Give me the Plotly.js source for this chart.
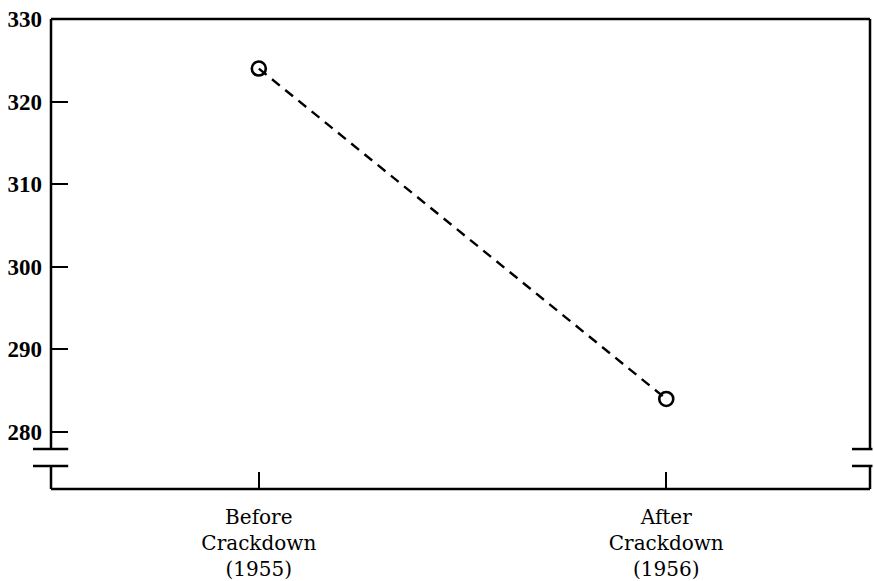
<!DOCTYPE html>
<html>
<head>
<meta charset="utf-8">
<script src="https://cdn.plot.ly/plotly-3.0.1.min.js"></script>
<style>html,body{margin:0;padding:0;background:#fff;}#chart{width:874px;height:581px;}</style>
</head>
<body>
<div id="chart"></div>
<script>
var categories = ["Before<br>Crackdown<br>(1955)", "After<br>Crackdown<br>(1956)"];
var fatalities = [324, 284];
var yTicks = [280, 290, 300, 310, 320, 330];

var xIdx = categories.map(function (c, i) { return i; });

var trace = {
  x: xIdx,
  y: fatalities,
  type: 'scatter',
  mode: 'lines+markers',
  line: {color: '#000', width: 2.4, dash: '10px,7px'},
  marker: {symbol: 'circle-open', size: 14, color: '#000', line: {width: 2.6, color: '#000'}},
  hoverinfo: 'x+y',
  showlegend: false
};

var lw = 2.5;
var bLow = 0.049, bHigh = 0.085;
var shapes = [
  {type: 'line', xref: 'paper', yref: 'paper', x0: 0, x1: 1, y0: 1, y1: 1},
  {type: 'line', xref: 'paper', yref: 'paper', x0: 0, x1: 1, y0: 0, y1: 0},
  {type: 'line', xref: 'paper', yref: 'paper', x0: 0, x1: 0, y0: 0, y1: bLow},
  {type: 'line', xref: 'paper', yref: 'paper', x0: 0, x1: 0, y0: bHigh, y1: 1},
  {type: 'line', xref: 'paper', yref: 'paper', x0: 1, x1: 1, y0: 0, y1: bLow},
  {type: 'line', xref: 'paper', yref: 'paper', x0: 1, x1: 1, y0: bHigh, y1: 1},
  {type: 'line', xref: 'paper', yref: 'paper', x0: -0.022, x1: 0.021, y0: bLow, y1: bLow},
  {type: 'line', xref: 'paper', yref: 'paper', x0: -0.022, x1: 0.021, y0: bHigh, y1: bHigh},
  {type: 'line', xref: 'paper', yref: 'paper', x0: 0.978, x1: 1.003, y0: bLow, y1: bLow},
  {type: 'line', xref: 'paper', yref: 'paper', x0: 0.978, x1: 1.003, y0: bHigh, y1: bHigh}
].map(function (s) { s.line = {color: '#000', width: lw}; s.layer = 'above'; return s; });

var layout = {
  width: 874,
  height: 581,
  margin: {l: 51, r: 4, t: 19, b: 92},
  paper_bgcolor: '#fff',
  plot_bgcolor: '#fff',
  xaxis: {
    range: [-0.51, 1.5],
    tickmode: 'array',
    tickvals: xIdx,
    ticktext: categories,
    ticks: 'inside',
    ticklen: 17,
    tickwidth: 2,
    tickcolor: '#000',
    showgrid: false,
    zeroline: false,
    showline: false,
    ticklabelstandoff: 14,
    tickfont: {family: 'DejaVu Serif, serif', size: 20, color: '#000'}
  },
  yaxis: {
    range: [273.1, 330],
    tickmode: 'array',
    tickvals: yTicks,
    ticktext: yTicks.map(String),
    ticks: 'inside',
    ticklen: 17,
    tickwidth: 2.2,
    tickcolor: '#000',
    showgrid: false,
    zeroline: false,
    showline: false,
    ticklabelstandoff: 8,
    tickfont: {family: 'Liberation Serif, serif', size: 23, color: '#000', weight: 'bold'}
  },
  shapes: shapes
};

Plotly.newPlot('chart', [trace], layout, {staticPlot: true, displayModeBar: false});
</script>
</body>
</html>
